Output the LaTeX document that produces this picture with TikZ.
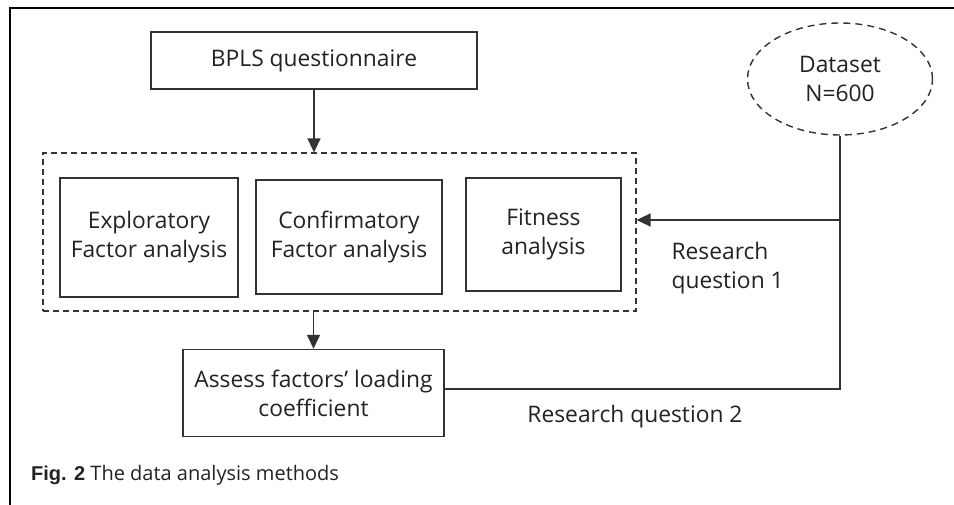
\documentclass[tikz,border=0pt]{standalone}
\usepackage{fontspec}
\setmainfont{Open Sans}
\newfontfamily\capfont{Liberation Sans}
\usetikzlibrary{arrows.meta,shapes.geometric}
\definecolor{txt}{HTML}{222222}
\definecolor{ln}{HTML}{333333}
\begin{document}
\begin{tikzpicture}[x=1pt,y=-1pt,
  lbl/.style={font=\fontsize{22.8}{29}\selectfont, text=txt},
  boxn/.style={draw=ln, line width=1.4pt, rectangle, inner sep=0pt, align=center, lbl},
  conn/.style={draw=ln, line width=1.4pt},
  arr/.style={conn, -{Triangle[length=14pt,width=13pt]}},
]
\useasboundingbox (0,0) rectangle (954,505);
% frame (top and left)
\draw[line width=2pt, black] (10,505) -- (10,8) -- (954,8);

\node[boxn, minimum width=326pt, minimum height=57pt] (bpls) at (314,60.5) {BPLS questionnaire};
\node[draw=ln, line width=1.2pt, dash pattern=on 6pt off 4pt, minimum width=593pt, minimum height=158pt, inner sep=0pt] (grp) at (339.5,232) {};
\node[boxn, minimum width=178pt, minimum height=119pt] (efa) at (149,237.5) {Exploratory\\Factor analysis};
\node[boxn, minimum width=186pt, minimum height=114pt] (cfa) at (349,237) {Confirmatory\\Factor analysis};
\node[boxn, minimum width=155pt, minimum height=113pt] (fit) at (543.5,234.5) {Fitness\\analysis};
\node[ellipse, draw=ln, line width=1.4pt, dash pattern=on 7pt off 5pt, minimum width=185pt, minimum height=112pt, inner sep=0pt, align=center, lbl] (ds) at (840,79) {Dataset\\N=600};
\node[boxn, minimum width=261pt, minimum height=87pt] (ass) at (313.5,393) {Assess factors’ loading\\coefficient};

\coordinate (j1) at (840,220);
\coordinate (j2) at (840,389);
\coordinate (ae) at (444,389);

\draw[arr] (bpls.south) -- (bpls.south |- grp.north);
\draw[arr] (ass.north |- grp.south) -- (ass.north);
\draw[conn] (ds.south) -- (j2) -- (ae);
\draw[arr] (j1) -- (j1 -| grp.east);

\node[lbl, anchor=west, align=left] (rq1) at (668,268) {Research\\question 1};
\node[lbl] (rq2) at (635,417) {Research question 2};

\node[anchor=base west, inner sep=0pt, text=txt, font=\fontsize{20}{24}\selectfont] (cap) at (31,480) {{\capfont\bfseries Fig. 2} The data analysis methods};
\end{tikzpicture}
\end{document}
